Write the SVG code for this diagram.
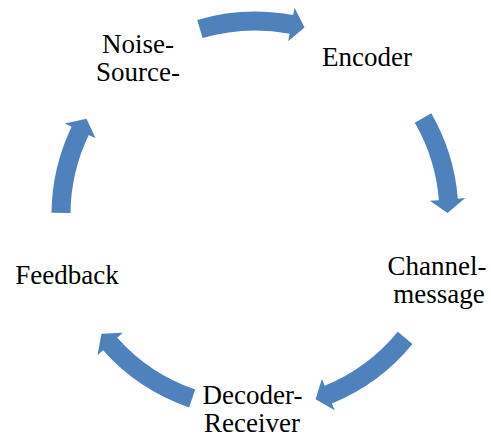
<svg xmlns="http://www.w3.org/2000/svg" width="491" height="437" viewBox="0 0 491 437">
  <style>
    .arrow { fill: #4F81BD; stroke: none; }
    .label { font-family: "Liberation Serif", "Times New Roman", serif; font-size: 27px; fill: #000000; text-anchor: middle; }
  </style>
  <rect width="491" height="437" fill="#FFFFFF"/>

  <!-- curved block arrows around a circle centred at (255,215) -->
  <g id="connectors">
    <path class="arrow" d="M197.21,19.88 A203.5,203.5 0 0 1 293.14,15.10 L294.54,7.73 L304.55,27.44 L288.17,41.13 L289.58,33.77 A184.5,184.5 0 0 0 202.60,38.10 Z"/>
    <path class="arrow" d="M431.24,113.25 A203.5,203.5 0 0 1 457.84,198.68 L465.32,198.08 L447.5,212.97 L429.93,200.80 L438.91,200.20 A184.5,184.5 0 0 0 414.78,122.75 Z"/>
    <path class="arrow" d="M412.47,343.90 A203.5,203.5 0 0 1 331.88,403.42 L334.72,410.36 L315.59,399.30 L321.87,378.88 L324.70,385.83 A184.5,184.5 0 0 0 397.77,331.86 Z"/>
    <path class="arrow" d="M189.09,407.53 A203.5,203.5 0 0 1 103.07,350.37 L97.47,355.36 L101.51,333.63 L122.85,332.74 L117.25,337.73 A184.5,184.5 0 0 0 195.24,389.56 Z"/>
    <path class="arrow" d="M51.51,212.87 A203.5,203.5 0 0 1 71.63,126.74 L64.87,123.49 L86.49,118.87 L95.51,138.24 L88.75,134.98 A184.5,184.5 0 0 0 70.51,213.07 Z"/>
  </g>

  <g id="node-noise-source">
    <text class="label" x="138" y="52.5">Noise-</text>
    <text class="label" x="138" y="81">Source-</text>
  </g>
  <g id="node-encoder">
    <text class="label" x="367" y="66">Encoder</text>
  </g>
  <g id="node-channel-message">
    <text class="label" x="437" y="275">Channel-</text>
    <text class="label" x="439" y="303">message</text>
  </g>
  <g id="node-decoder-receiver">
    <text class="label" x="252.5" y="404">Decoder-</text>
    <text class="label" x="252" y="432">Receiver</text>
  </g>
  <g id="node-feedback">
    <text class="label" x="67" y="284">Feedback</text>
  </g>
</svg>
